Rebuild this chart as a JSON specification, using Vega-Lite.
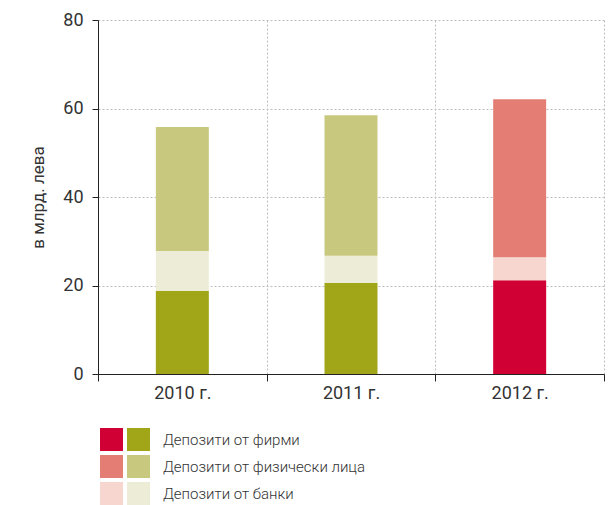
{
  "$schema": "https://vega.github.io/schema/vega-lite/v6.json",
  "background": "white",
  "padding": {"left": 29, "top": 11, "right": 5, "bottom": 0},
  "config": {"view": {"stroke": null}, "font": "Roboto"},
  "bounds": "flush",
  "spacing": 54,
  "datasets": {
    "bars": [
      {"year": "2010 г.", "palette": "2010–2011", "category": "Депозити от фирми", "rank": 1, "value": 18.8},
      {"year": "2010 г.", "palette": "2010–2011", "category": "Депозити от банки", "rank": 2, "value": 9.0},
      {"year": "2010 г.", "palette": "2010–2011", "category": "Депозити от физически лица", "rank": 3, "value": 28.0},
      {"year": "2011 г.", "palette": "2010–2011", "category": "Депозити от фирми", "rank": 1, "value": 20.6},
      {"year": "2011 г.", "palette": "2010–2011", "category": "Депозити от банки", "rank": 2, "value": 6.1},
      {"year": "2011 г.", "palette": "2010–2011", "category": "Депозити от физически лица", "rank": 3, "value": 31.8},
      {"year": "2012 г.", "palette": "2012", "category": "Депозити от фирми", "rank": 1, "value": 21.2},
      {"year": "2012 г.", "palette": "2012", "category": "Депозити от банки", "rank": 2, "value": 5.2},
      {"year": "2012 г.", "palette": "2012", "category": "Депозити от физически лица", "rank": 3, "value": 35.7}
    ],
    "legend": [
      {"palette": "2012", "category": "Депозити от фирми"},
      {"palette": "2010–2011", "category": "Депозити от фирми"},
      {"palette": "2012", "category": "Депозити от физически лица"},
      {"palette": "2010–2011", "category": "Депозити от физически лица"},
      {"palette": "2012", "category": "Депозити от банки"},
      {"palette": "2010–2011", "category": "Депозити от банки"}
    ]
  },
  "vconcat": [
    {
      "width": 506,
      "height": 354,
      "data": {"name": "bars"},
      "transform": [{"calculate": "datum.palette + ' ' + datum.category", "as": "key"}],
      "mark": {"type": "bar", "width": 53},
      "encoding": {
        "x": {
          "field": "year", "type": "nominal", "title": null,
          "scale": {"paddingInner": 0, "paddingOuter": 0},
          "axis": {
            "tickBand": "extent", "labelAngle": 0, "grid": true,
            "gridDash": [2, 2], "gridColor": "#bdbdbd", "gridWidth": 1,
            "domainColor": "#222", "tickColor": "#222", "tickSize": 7,
            "labelFontSize": 18, "labelColor": "#333", "labelPadding": 3
          }
        },
        "y": {
          "field": "value", "type": "quantitative", "stack": "zero",
          "scale": {"domain": [0, 80], "nice": false},
          "title": "в млрд. лева",
          "axis": {
            "values": [0, 20, 40, 60, 80],
            "gridDash": [2, 2], "gridColor": "#bdbdbd",
            "domainColor": "#222", "tickColor": "#222", "tickSize": 6,
            "labelFontSize": 18, "labelColor": "#333", "labelPadding": 9,
            "titleFontSize": 17, "titleFontWeight": "normal", "titleColor": "#333",
            "titlePadding": 15
          }
        },
        "color": {
          "field": "key", "type": "nominal", "legend": null,
          "scale": {
            "domain": [
              "2012 Депозити от фирми", "2012 Депозити от физически лица", "2012 Депозити от банки",
              "2010–2011 Депозити от фирми", "2010–2011 Депозити от физически лица", "2010–2011 Депозити от банки"
            ],
            "range": ["#D10034", "#E47E74", "#F8D6D0", "#A0A618", "#C8C87F", "#EDEDD7"]
          }
        },
        "order": {"field": "rank", "type": "quantitative"}
      }
    },
    {
      "width": {"step": 27},
      "height": {"step": 27},
      "data": {"name": "legend"},
      "transform": [{"calculate": "datum.palette + ' ' + datum.category", "as": "key"}],
      "layer": [
        {
          "mark": {"type": "rect"},
          "encoding": {
            "x": {"field": "palette", "type": "nominal", "axis": null, "sort": ["2012", "2010–2011"],
                  "scale": {"paddingInner": 0.148, "paddingOuter": 0.074}},
            "y": {"field": "category", "type": "nominal", "axis": null,
                  "sort": ["Депозити от фирми", "Депозити от физически лица", "Депозити от банки"],
                  "scale": {"paddingInner": 0.148, "paddingOuter": 0}},
            "color": {
              "field": "key", "type": "nominal", "legend": null,
              "scale": {
                "domain": [
                  "2012 Депозити от фирми", "2012 Депозити от физически лица", "2012 Депозити от банки",
                  "2010–2011 Депозити от фирми", "2010–2011 Депозити от физически лица", "2010–2011 Депозити от банки"
                ],
                "range": ["#D10034", "#E47E74", "#F8D6D0", "#A0A618", "#C8C87F", "#EDEDD7"]
              }
            }
          }
        },
        {
          "transform": [{"filter": "datum.palette === '2010–2011'"}],
          "mark": {"type": "text", "align": "left", "baseline": "middle", "dx": 13, "fontSize": 15, "fontWeight": 300, "color": "#333"},
          "encoding": {
            "x": {"field": "palette", "type": "nominal", "bandPosition": 1, "sort": ["2012", "2010–2011"]},
            "y": {"field": "category", "type": "nominal",
                  "sort": ["Депозити от фирми", "Депозити от физически лица", "Депозити от банки"]},
            "text": {"field": "category"}
          }
        }
      ]
    }
  ]
}
